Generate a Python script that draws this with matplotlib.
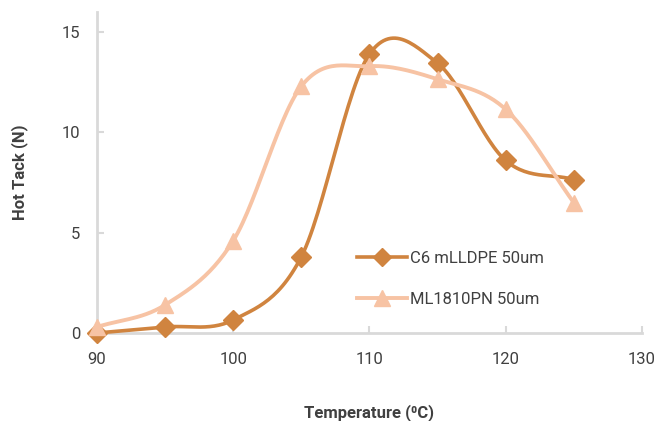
import numpy as np
import matplotlib.pyplot as plt

# %% data
temps = [90, 95, 100, 105, 110, 115, 120, 125]
c6_tack = [0.0, 0.3, 0.65, 3.8, 13.9, 13.45, 8.6, 7.65]
ml_tack = [0.3, 1.4, 4.6, 12.3, 13.3, 12.65, 11.15, 6.5]
series_names = ["C6 mLLDPE 50um", "ML1810PN 50um"]
xticks = [90, 100, 110, 120, 130]
yticks = [0, 5, 10, 15]

c_dark = "#D0843F"
c_light = "#F7C3A4"
c_text = "#404040"
c_axis = "#D9D9D9"


# smoothed line like the spreadsheet ones (catmull-rom through the points)
def smooth(x, y, n=30):
    x = np.asarray(x, float)
    y = np.asarray(y, float)
    px = np.concatenate([[2 * x[0] - x[1]], x, [2 * x[-1] - x[-2]]])
    py = np.concatenate([[2 * y[0] - y[1]], y, [2 * y[-1] - y[-2]]])
    xs, ys = [], []
    t = np.linspace(0, 1, n)
    for i in range(1, len(px) - 2):
        for p, out in ((px, xs), (py, ys)):
            p0, p1, p2, p3 = p[i - 1], p[i], p[i + 1], p[i + 2]
            out.extend(0.5 * (2 * p1 + (-p0 + p2) * t
                              + (2 * p0 - 5 * p1 + 4 * p2 - p3) * t ** 2
                              + (-p0 + 3 * p1 - 3 * p2 + p3) * t ** 3))
    return np.array(xs), np.array(ys)


plt.rcParams['font.family'] = ['Roboto', 'DejaVu Sans']

fig = plt.figure(figsize=(6.57, 4.21), dpi=100)
ax = fig.add_axes([0.1476, 0.209, 0.8294, 0.7625])

sx, sy = smooth(temps, c6_tack)
ax.plot(sx, sy, color=c_dark, lw=2.6, clip_on=False, zorder=3)
ax.plot(temps, c6_tack, ls="none", marker="D", ms=10, color=c_dark,
        clip_on=False, zorder=3)
sx, sy = smooth(temps, ml_tack)
ax.plot(sx, sy, color=c_light, lw=2.8, clip_on=False, zorder=4)
ax.plot(temps, ml_tack, ls="none", marker="^", ms=12, color=c_light,
        clip_on=False, zorder=4)

# legend handles
h1, = ax.plot([], [], color=c_dark, lw=2.6, marker="D", ms=9)
h2, = ax.plot([], [], color=c_light, lw=2.8, marker="^", ms=12)
ax.legend([h1, h2], series_names, loc="center left",
          bbox_to_anchor=(0.543, 0.337), bbox_transform=fig.transFigure,
          frameon=False, numpoints=1, handlelength=3.0, handletextpad=0.2,
          labelspacing=1.55, fontsize=12, labelcolor=c_text,
          borderaxespad=0, borderpad=0)

ax.set_xlim(90, 130)
ax.set_ylim(0, 16)
ax.set_xticks(xticks)
ax.set_yticks(yticks)
ax.tick_params(direction="in", color=c_axis, width=1.5, length=5,
               labelsize=12, labelcolor=c_text)
ax.tick_params(axis="x", pad=14)
ax.tick_params(axis="y", pad=12)
for s in ["top", "right"]:
    ax.spines[s].set_visible(False)
for s in ["left", "bottom"]:
    ax.spines[s].set_color(c_axis)
    ax.spines[s].set_linewidth(2)

ax.set_xlabel("Temperature (⁰C)", fontsize=12, fontweight="bold",
              color=c_text, labelpad=26)
ax.set_ylabel("Hot Tack (N)", fontsize=12, fontweight="bold",
              color=c_text, labelpad=24)

fig.savefig("out.png", dpi=100)
